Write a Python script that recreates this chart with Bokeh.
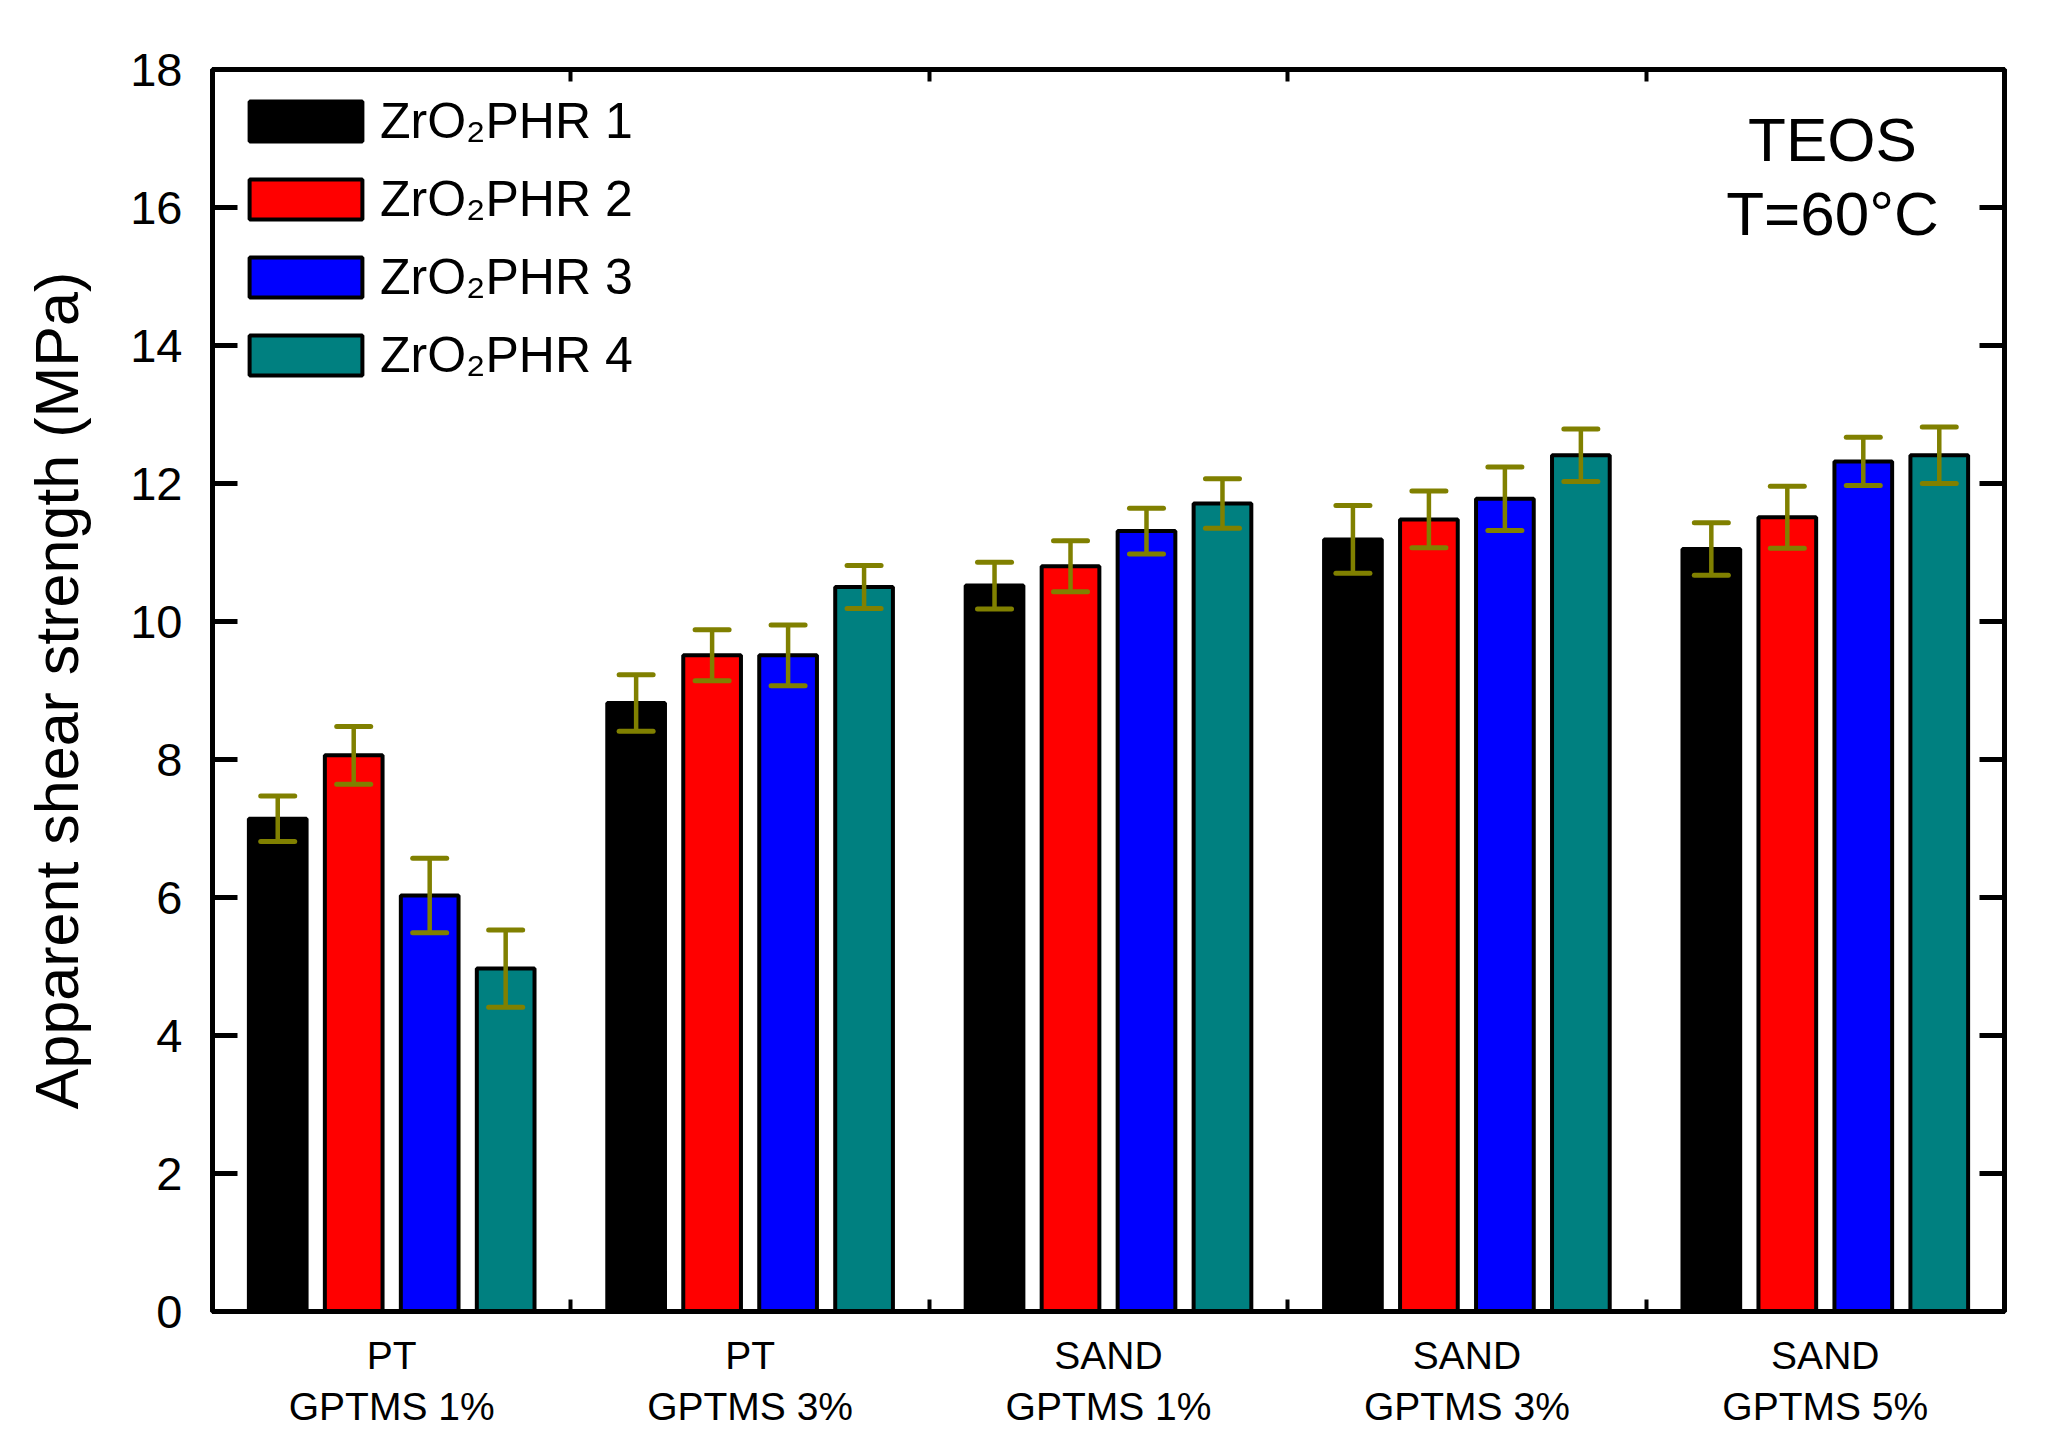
import numpy as np
from bokeh.plotting import figure
from bokeh.models import (Range1d, FixedTicker, LinearAxis, Whisker, TeeHead,
                          ColumnDataSource, Label)
from bokeh.embed import file_html
from bokeh.resources import INLINE

# ---------------- data ----------------
categories = ["PT\nGPTMS 1%", "PT\nGPTMS 3%", "SAND\nGPTMS 1%", "SAND\nGPTMS 3%", "SAND\nGPTMS 5%"]
series_names = ["ZrO\u2082PHR 1", "ZrO\u2082PHR 2", "ZrO\u2082PHR 3", "ZrO\u2082PHR 4"]
phr1 = [7.14, 8.82, 10.52, 11.19, 11.05]
err1 = [0.33, 0.41, 0.34, 0.49, 0.38]
phr2 = [8.06, 9.51, 10.80, 11.48, 11.51]
err2 = [0.42, 0.37, 0.37, 0.41, 0.45]
phr3 = [6.03, 9.51, 11.31, 11.78, 12.32]
err3 = [0.54, 0.44, 0.33, 0.46, 0.35]
phr4 = [4.97, 10.50, 11.71, 12.41, 12.41]
err4 = [0.56, 0.31, 0.36, 0.38, 0.41]
y_ticks = [0, 2, 4, 6, 8, 10, 12, 14, 16, 18]
y_label = "Apparent shear strength (MPa)"
annotation_lines = ["TEOS", "T=60\u00b0C"]

colors = ["#000000", "#ff0000", "#0000ff", "#008080"]
err_color = "#808000"
FONT = "Liberation Sans"

values = [phr1, phr2, phr3, phr4]
errors = [err1, err2, err3, err4]

p = figure(width=2029, height=1442, output_backend="svg", toolbar_location=None,
           x_range=Range1d(0.5, len(categories) + 0.5), y_range=Range1d(0, 18),
           min_border_left=212, min_border_right=25, min_border_top=69,
           min_border_bottom=131, background_fill_color="white",
           border_fill_color="white")
p.grid.visible = False
p.outline_line_color = "black"
p.outline_line_width = 5

centers = np.arange(1, len(categories) + 1)
stride = 0.212
bar_w = 0.161

for i, (vals, errs, name, col) in enumerate(zip(values, errors, series_names, colors)):
    xs = centers + (i - 1.5) * stride
    vals = np.array(vals)
    errs = np.array(errs)
    src = ColumnDataSource(dict(x=xs, top=vals, upper=vals + errs, lower=vals - errs))
    p.vbar(x="x", top="top", bottom=0, width=bar_w, source=src,
           fill_color=col, line_color="black", line_width=4, legend_label=name)
    w = Whisker(base="x", upper="upper", lower="lower", source=src,
                line_color=err_color, line_width=4.5, level="annotation",
                upper_head=TeeHead(size=34, line_color=err_color, line_width=5, line_cap="round"),
                lower_head=TeeHead(size=34, line_color=err_color, line_width=5, line_cap="round"))
    p.add_layout(w)

# ---- x axis (bottom) ----
xa = p.xaxis[0]
xa.ticker = FixedTicker(ticks=list(centers), minor_ticks=[1.5, 2.5, 3.5, 4.5])
xa.major_label_overrides = {int(c): lab for c, lab in zip(centers, categories)}
xa.major_tick_in = 0
xa.major_tick_out = 0
xa.minor_tick_in = 12
xa.minor_tick_out = 0
xa.minor_tick_line_width = 4
xa.minor_tick_line_color = "black"
xa.axis_line_width = 5
xa.major_label_text_font = FONT
xa.major_label_text_font_size = "39px"
xa.major_label_text_color = "black"
xa.major_label_standoff = 22

# ---- y axis (left) ----
ya = p.yaxis[0]
ya.ticker = FixedTicker(ticks=y_ticks, minor_ticks=[])
ya.major_tick_in = 25
ya.major_tick_out = 0
ya.major_tick_line_width = 5
ya.minor_tick_in = 0
ya.minor_tick_out = 0
ya.axis_line_width = 5
ya.major_label_text_font = FONT
ya.major_label_text_font_size = "47px"
ya.major_label_text_color = "black"
ya.major_label_standoff = 30
ya.axis_label = y_label
ya.axis_label_text_font = FONT
ya.axis_label_text_font_size = "61px"
ya.axis_label_text_font_style = "normal"
ya.axis_label_text_color = "black"
ya.axis_label_standoff = 36

# ---- top and right axes: ticks only ----
top = LinearAxis(ticker=FixedTicker(ticks=[], minor_ticks=[1.5, 2.5, 3.5, 4.5]),
                 axis_line_width=5, major_tick_in=0, major_tick_out=0,
                 minor_tick_in=12, minor_tick_out=0, minor_tick_line_width=4)
p.add_layout(top, "above")
right = LinearAxis(ticker=FixedTicker(ticks=[], minor_ticks=y_ticks),
                   axis_line_width=5, major_tick_in=0, major_tick_out=0,
                   minor_tick_in=25, minor_tick_out=0, minor_tick_line_width=5)
p.add_layout(right, "right")

# ---- annotation text ----
p.add_layout(Label(x=5.02, y=16.98, text=annotation_lines[0], text_align="center",
                   text_baseline="alphabetic", text_font=FONT, text_font_size="62px",
                   text_color="black"))
p.add_layout(Label(x=5.02, y=15.91, text=annotation_lines[1], text_align="center",
                   text_baseline="alphabetic", text_font=FONT, text_font_size="62px",
                   text_color="black"))

# ---- legend ----
lg = p.legend[0]
lg.location = "top_left"
lg.margin = 23
lg.padding = 0
lg.spacing = 20
lg.glyph_width = 141
lg.glyph_height = 50
lg.label_standoff = 4
lg.label_text_font = FONT
lg.label_text_font_size = "50px"
lg.label_text_color = "black"
lg.border_line_color = None
lg.background_fill_alpha = 0

open("out.html", "w").write(file_html(p, INLINE))
